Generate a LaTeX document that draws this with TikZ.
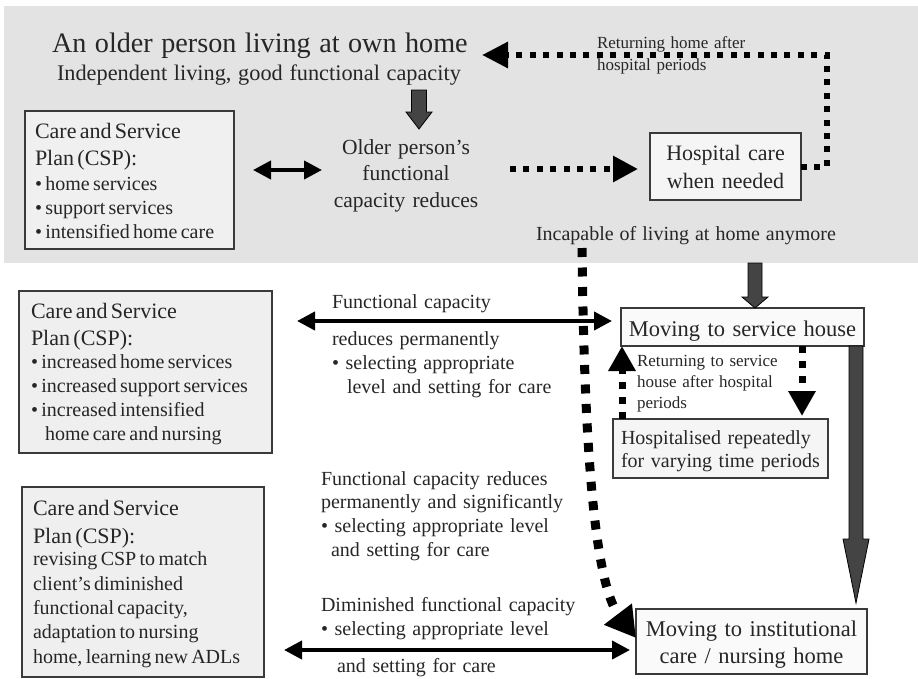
\documentclass[tikz,border=0pt]{standalone}
\usepackage{fontspec}
\setmainfont[WordSpace=1.2]{Liberation Serif}
\usetikzlibrary{arrows.meta,calc}
\definecolor{bggray}{HTML}{E3E3E3}
\definecolor{inkc}{HTML}{262626}
\definecolor{boxline}{HTML}{3A3A3A}
\definecolor{fatgray}{HTML}{444444}
\definecolor{fillA}{HTML}{F0F0F0}
\definecolor{fillB}{HTML}{EFEFEF}
\definecolor{fillC}{HTML}{F5F5F5}
\definecolor{fillD}{HTML}{FAFAFA}
\newcommand\setfs[2]{\fontsize{#1}{#2}\selectfont}
\newcommand\fatdown[5]{\draw[fat] let \p1=(#1), \p2=(#2) in (\x1-#3,\y1) -- (\x1-#3,\y2+#5) -- (\x1-#4,\y2+#5) -- (\x1,\y2) -- (\x1+#4,\y2+#5) -- (\x1+#3,\y2+#5) -- (\x1+#3,\y1) -- cycle;}
\begin{document}
\begin{tikzpicture}[x=1pt,y=-1pt,
  boxed/.style={draw=boxline, line width=1.1pt, inner ysep=0pt, outer sep=0pt, text=inkc},
  plain/.style={inner sep=0pt, outer sep=0pt, text=inkc},
  fat/.style={fill=fatgray, draw=black, line width=0.8pt},
  dotA/.style={line width=6pt, dash pattern=on 6pt off 7.4pt, -{Triangle[length=25pt,width=25pt]}},
  dotB/.style={line width=9pt, dash pattern=on 9pt off 10.5pt, -{Triangle[length=30pt,width=33pt]}},
  dotC/.style={line width=7pt, dash pattern=on 7pt off 8pt, -{Triangle[length=25pt,width=26pt]}},
  dbl/.style={line width=4pt, {Triangle[length=18pt,width=18pt]}-{Triangle[length=18pt,width=18pt]}}]
\useasboundingbox (0,0) rectangle (918,678);
\fill[bggray] (4,6) rectangle (918,263);

% ---------- top (home) region ----------
\node[plain, anchor=base west, font=\setfs{28.2}{34}] (title) at (52,52) {An older person living at own home};
\node[plain, anchor=base west, font=\setfs{22.3}{27}] (sub) at (57,80) {Independent living, good functional capacity};

\node[boxed, fill=fillA, anchor=north west, inner xsep=10pt, text width=189pt, align=left,
      text height=27pt, text depth=111pt] (csp1) at (25,111)
  {{\setfs{22}{27}Care and Service\\Plan (CSP):\par}\vspace{1pt}\setfs{20}{24}• home services\\• support services\\• intensified home care\par};

\node[plain, anchor=base, text width=170pt, align=center, font=\setfs{21.5}{26.5}] (reduce) at (406,154)
  {Older person’s\\functional\\capacity reduces};

\node[boxed, fill=fillC, anchor=north west, inner xsep=6pt, text width=139pt, align=center,
      text height=27pt, text depth=40pt, font=\setfs{22}{28}] (hosp) at (650,133)
  {Hospital care\\when needed};

\node[plain, anchor=base west, font=\setfs{20}{24}] (incap) at (536,240) {Incapable of living at home anymore};

\coordinate (g1a) at (419,90);
\coordinate (g1b) at (419,129);
\fatdown{g1a}{g1b}{7.5pt}{13pt}{17pt}

\path ([yshift=10pt]csp1.east) coordinate (d1y);
\draw[dbl, shorten <=19pt] (d1y) -- ([xshift=1pt]reduce.west |- d1y);

\path ([yshift=-2.5pt]hosp.west) coordinate (h1);
\draw[dotA, shorten >=12pt] ([xshift=19pt]reduce.east |- h1) -- (h1);

\coordinate (ret) at (482,55);
\draw[dotA, -{Triangle[length=26pt,width=25pt]}] (hosp.east) -- ++(26,0) |- (ret);
\node[plain, anchor=base west, text width=160pt, align=left, font=\setfs{17}{22.5}] (rethome) at (597,48)
  {Returning home after\\hospital periods};

% ---------- lower region ----------
\node[boxed, fill=fillB, anchor=north west, inner xsep=12pt, text width=229pt, align=left,
      text height=27pt, text depth=135pt] (csp2) at (19,291)
  {{\setfs{22}{27}Care and Service\\Plan (CSP):\par}\vspace{-1pt}\setfs{20}{24}• increased home services\\• increased support services\\• increased intensified\\\hspace*{14pt}home care and nursing\par};

\node[boxed, fill=fillB, anchor=north west, inner xsep=11pt, text width=220pt, align=left,
      text height=28pt, text depth=162pt] (csp3) at (22,487)
  {{\setfs{22}{28}Care and Service\\Plan (CSP):\par}\vspace{-1.5pt}\setfs{20}{24.3}revising CSP to match\\client’s diminished\\functional capacity,\\adaptation to nursing\\home, learning new ADLs\par};

\node[boxed, fill=fillD, anchor=north west, inner xsep=6pt, text width=231pt, align=center,
      text height=28pt, text depth=10pt, font=\setfs{22.5}{27}] (svc) at (621,308)
  {Moving to service house};

\node[boxed, fill=fillC, anchor=north west, inner xsep=8pt, text width=199pt, align=left,
      text height=25pt, text depth=34pt, font=\setfs{20}{23.5}] (hospd) at (613,419)
  {Hospitalised repeatedly\\for varying time periods};

\node[boxed, fill=fillD, anchor=north west, inner xsep=6pt, text width=219pt, align=center,
      text height=27pt, text depth=38pt, font=\setfs{22.5}{27.5}] (nurse) at (636,609)
  {Moving to institutional\\care / nursing home};

\node[plain, anchor=base west, text width=280pt, align=left, font=\setfs{20}{24}] (fc1) at (332,308)
  {Functional capacity\\[13pt]reduces permanently\\• selecting appropriate\\\hspace*{15pt}level and setting for care};
\node[plain, anchor=base west, text width=280pt, align=left, font=\setfs{20}{23.7}] (fc2) at (321,485)
  {Functional capacity reduces\\permanently and significantly\\• selecting appropriate level\\\hspace*{10pt}and setting for care};
\node[plain, anchor=base west, text width=280pt, align=left, font=\setfs{20}{24}] (fc3) at (321,611)
  {Diminished functional capacity\\• selecting appropriate level\\[13pt]\hspace*{16pt}and setting for care};

\node[plain, anchor=base west, text width=150pt, align=left, font=\setfs{17}{21}] (retsvc) at (637,366)
  {Returning to service\\house after hospital\\periods};

% connectors
\path ([yshift=6pt]svc.west) coordinate (f1);
\draw[dbl, shorten <=25pt, shorten >=9pt] (csp2.east |- f1) -- (f1);
\path ([yshift=-8.5pt]nurse.west) coordinate (f3);
\draw[dbl, shorten <=20pt, shorten >=6pt] (csp3.east |- f3) -- (f3);

\coordinate (g2a) at (755,263);
\fatdown{g2a}{g2a |- svc.north}{7pt}{13pt}{11pt}

\coordinate (g3a) at ([xshift=-8pt]svc.south east);
\path (g3a |- nurse.north) ++(0,-6) coordinate (g3b);
\fatdown{g3a}{g3b}{7pt}{13pt}{64pt}

\coordinate (u1) at ([xshift=9pt]hospd.north west);
\draw[dotC] (u1) -- (u1 |- svc.south);
\coordinate (dn) at ([xshift=-26pt]hospd.north east);
\draw[dotC] (dn |- svc.south) -- ([yshift=3pt]dn);

\coordinate (c0) at (582,248);
\draw[dotB] (c0) .. controls (584,420) and (592,580) .. ([yshift=3.5pt]nurse.west);
\end{tikzpicture}
\end{document}
